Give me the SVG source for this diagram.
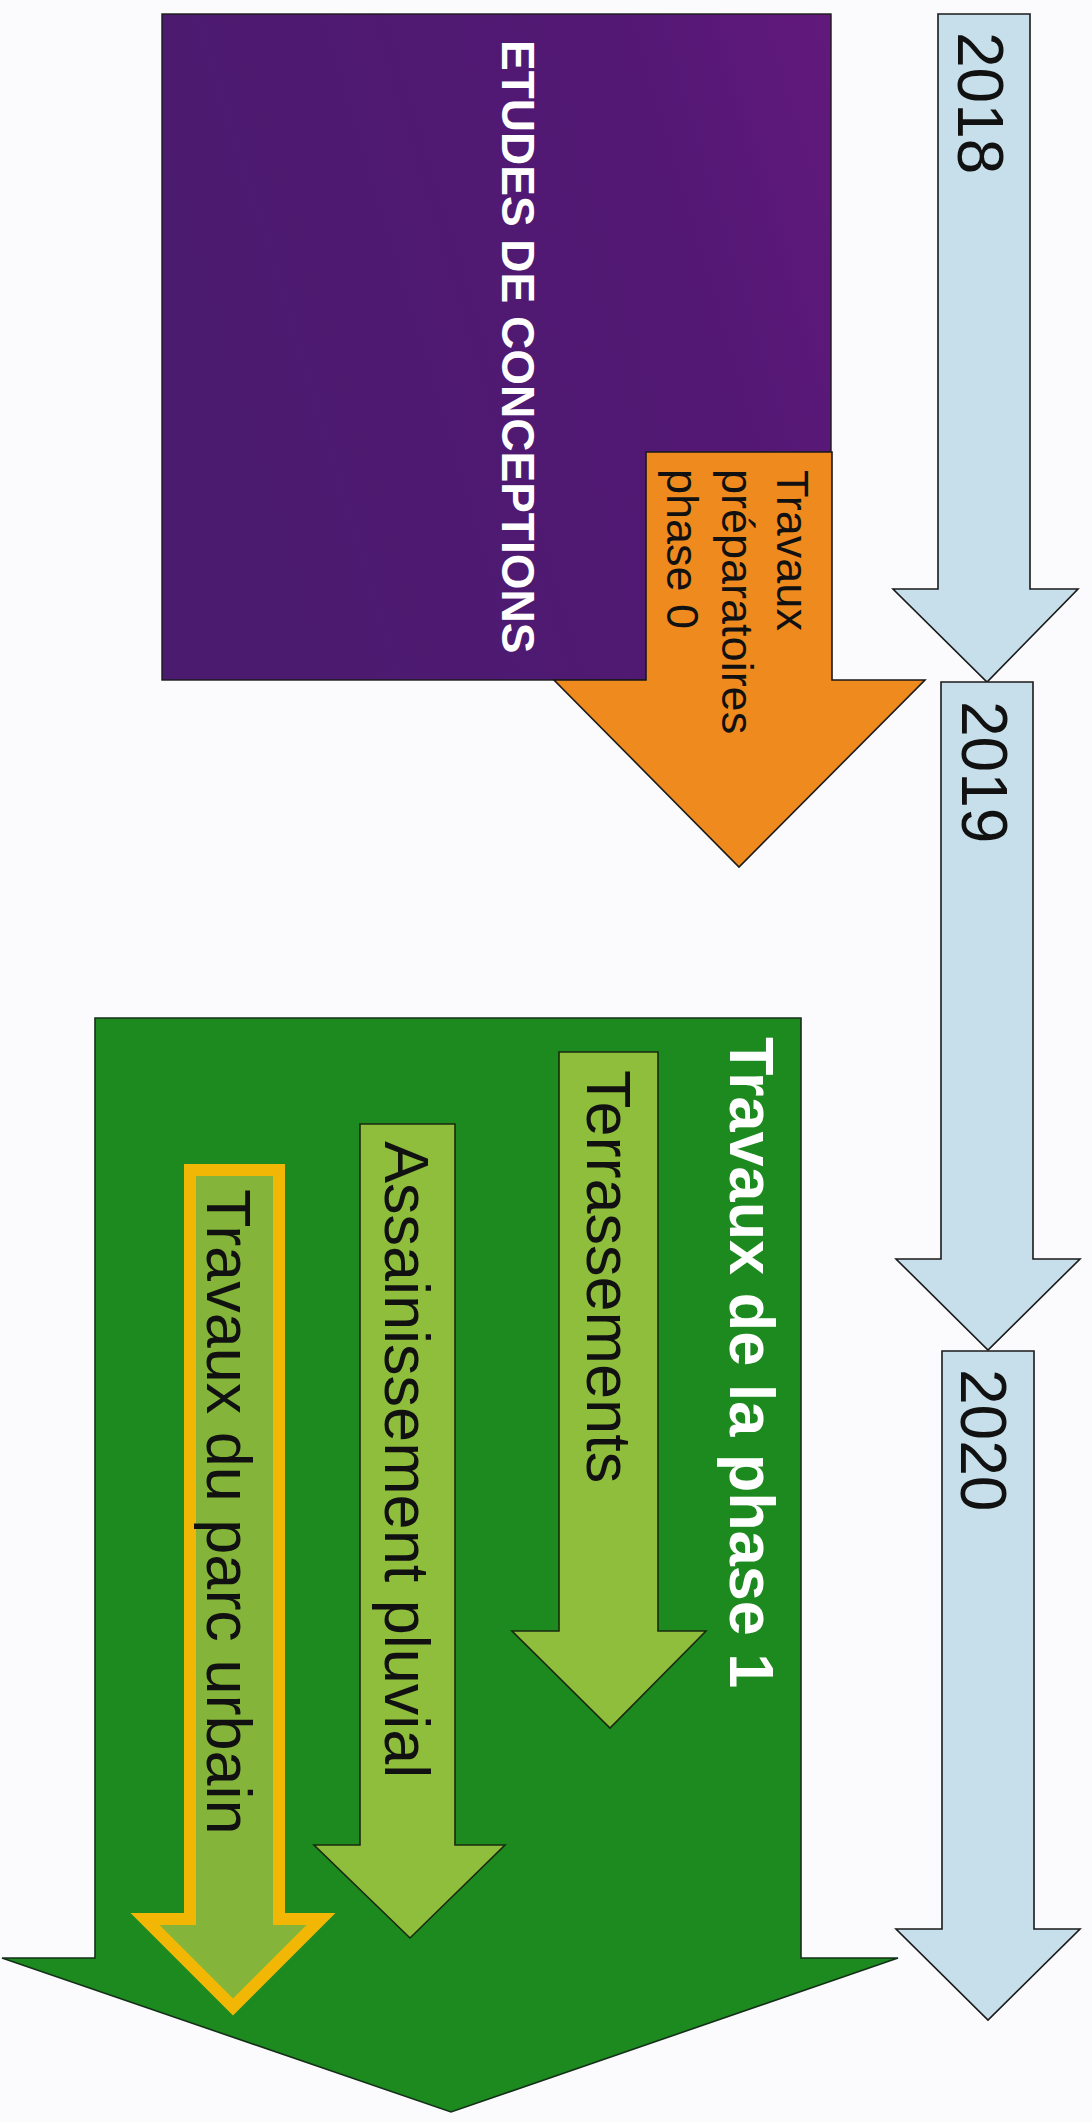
<svg xmlns="http://www.w3.org/2000/svg" width="1092" height="2122" viewBox="0 0 1092 2122">
  <defs>
    <linearGradient id="purpleGrad" x1="0" y1="0.3" x2="1" y2="0">
      <stop offset="0" stop-color="#4b1b6f"/>
      <stop offset="0.7" stop-color="#531874"/>
      <stop offset="1" stop-color="#62197c"/>
    </linearGradient>
  </defs>
  <style>
    .year { fill: #c6dfea; stroke: #1a1a1a; stroke-width: 1.6; }
    .yeartxt { font-family: "Liberation Sans", Arial, sans-serif; font-size: 64px; fill: #111; }
    .sub { fill: #8fbd3c; stroke: #1a2a10; stroke-width: 1.6; }
    .subtxt { font-family: "Liberation Sans", Arial, sans-serif; font-size: 63px; fill: #111; }
    .white { font-family: "Liberation Sans", Arial, sans-serif; font-weight: bold; fill: #ffffff; }
    .orangetxt { font-family: "Liberation Sans", Arial, sans-serif; font-size: 45px; fill: #111; }
  </style>
  <rect width="1092" height="2122" fill="#fbfbfd"/>

  <g id="year-2018">
    <path class="year" d="M938,14 H1030 V589 H1078 L987,682 L893,589 H938 Z"/>
    <text class="yeartxt" transform="translate(958,32) rotate(90)">2018</text>
  </g>
  <g id="year-2019">
    <path class="year" d="M941,682 H1033 V1259 H1080 L988,1350 L896,1259 H941 Z"/>
    <text class="yeartxt" transform="translate(962,701) rotate(90)">2019</text>
  </g>
  <g id="year-2020">
    <path class="year" d="M942,1351 H1034 V1929 H1080 L988,2020 L896,1929 H942 Z"/>
    <text class="yeartxt" transform="translate(961,1369) rotate(90)">2020</text>
  </g>

  <g id="etudes">
    <rect x="162" y="14" width="669" height="666" fill="url(#purpleGrad)" stroke="#1a1a1a" stroke-width="1.4"/>
    <text class="white" font-size="46" transform="translate(502,40) rotate(90)">ETUDES DE CONCEPTIONS</text>
  </g>

  <g id="travaux-preparatoires">
    <path d="M646,452 H832 V680 H925 L739,867 L554,680 H646 Z" fill="#ef8a1e" stroke="#1a1a1a" stroke-width="1.6"/>
    <text class="orangetxt" transform="translate(777,470) rotate(90)">Travaux</text>
    <text class="orangetxt" transform="translate(722,469) rotate(90)">préparatoires</text>
    <text class="orangetxt" transform="translate(667,469) rotate(90)">phase 0</text>
  </g>

  <g id="phase1">
    <path d="M95,1018 H801 V1958 H898 L451,2112 L2,1958 H95 Z" fill="#1c8a1e" stroke="#15301a" stroke-width="1.6"/>
    <text class="white" font-size="63" transform="translate(730,1037) rotate(90)">Travaux de la phase 1</text>
  </g>

  <g id="terrassements">
    <path class="sub" d="M559,1052 H658 V1631 H706 L610,1728 L512,1631 H559 Z"/>
    <text class="subtxt" transform="translate(587,1070) rotate(90)">Terrassements</text>
  </g>

  <g id="assainissement">
    <path class="sub" d="M360,1124 H455 V1845 H505 L410,1938 L314,1845 H360 Z"/>
    <text class="subtxt" transform="translate(385,1141) rotate(90)">Assainissement pluvial</text>
  </g>

  <g id="parc-urbain">
    <path d="M190,1170 H279 V1919 H321 L233,2007 L145,1919 H190 Z" fill="#84b53a" stroke="#f2b705" stroke-width="12" stroke-linejoin="miter"/>
    <text class="subtxt" transform="translate(207,1189) rotate(90)">Travaux du parc urbain</text>
  </g>

  <g id="connectors"></g>
</svg>
